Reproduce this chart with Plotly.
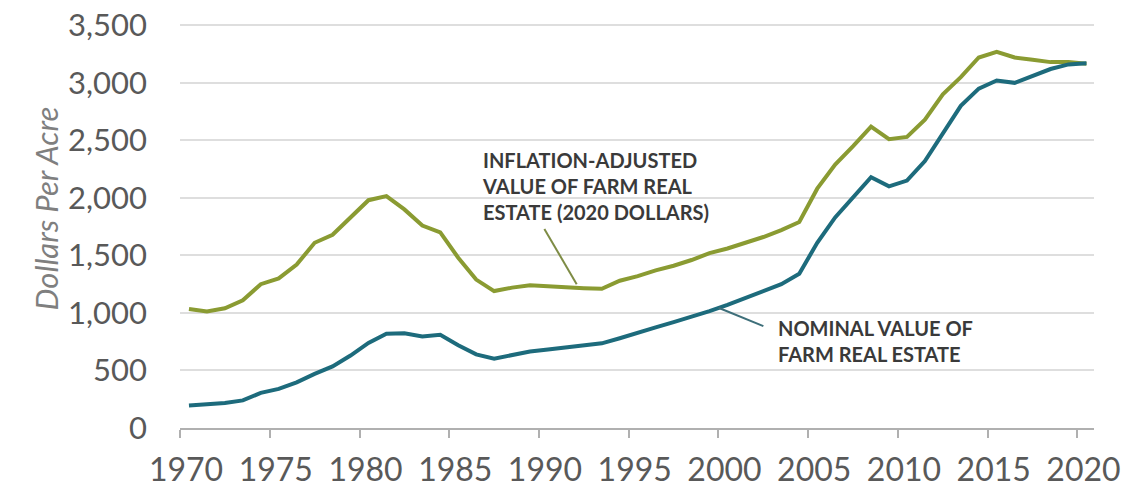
import plotly.graph_objects as go

years = list(range(1970, 2021))

nominal = [195, 205, 218, 240, 305, 340, 397, 470, 535, 630,
           740, 820, 823, 795, 810, 720, 640, 603, 632, 665,
           683, 700, 713, 736, 780, 830, 875, 920, 965, 1015,
           1070, 1130, 1190, 1250, 1340, 1610, 1830, 2010, 2180, 2100,
           2150, 2320, 2560, 2800, 2950, 3020, 3000, 3060, 3120, 3160,
           3170]

inflation_adj = [1035, 1012, 1040, 1110, 1250, 1300, 1420, 1610, 1680, 1830,
                 1980, 2015, 1900, 1760, 1700, 1480, 1290, 1190, 1220, 1240,
                 1230, 1225, 1215, 1210, 1280, 1320, 1370, 1410, 1460, 1520,
                 1560, 1610, 1660, 1720, 1790, 2080, 2290, 2450, 2620, 2510,
                 2530, 2680, 2900, 3050, 3220, 3270, 3220, 3200, 3180, 3180,
                 3165]

tick_years = [1970, 1975, 1980, 1985, 1990, 1995, 2000, 2005, 2010, 2015, 2020]
y_ticks = [0, 500, 1000, 1500, 2000, 2500, 3000, 3500]

OLIVE = "#8A9B32"
TEAL = "#1D6B7C"
FONT = "Lato"

fig = go.Figure()
fig.add_trace(go.Scatter(x=years, y=inflation_adj, mode="lines",
                         line=dict(color=OLIVE, width=4), showlegend=False))
fig.add_trace(go.Scatter(x=years, y=nominal, mode="lines",
                         line=dict(color=TEAL, width=4), showlegend=False))

# pointer lines
fig.add_shape(type="line", xref="x", yref="y", x0=1989.8, y0=1730, x1=1991.6, y1=1250,
              line=dict(color="#7E8C45", width=2))
fig.add_shape(type="line", xref="x", yref="y", x0=1999.5, y0=1045, x1=2002.0, y1=885,
              line=dict(color="#3E6F7A", width=2))

fig.add_annotation(x=1986.2, y=2450, xref="x", yref="y", xanchor="left", yanchor="top",
                   align="left", showarrow=False,
                   text="INFLATION-ADJUSTED<br>VALUE OF FARM REAL<br>ESTATE (2020 DOLLARS)",
                   font=dict(family=FONT, size=20, color="#3A3A3A", weight="bold"))
fig.add_annotation(x=2002.7, y=995, xref="x", yref="y", xanchor="left", yanchor="top",
                   align="left", showarrow=False,
                   text="NOMINAL VALUE OF<br>FARM REAL ESTATE",
                   font=dict(family=FONT, size=20, color="#3A3A3A", weight="bold"))

# y-axis title
fig.add_annotation(x=-0.17, y=0.541, xref="paper", yref="paper", showarrow=False,
                   text="<i>Dollars Per Acre</i>", textangle=-90,
                   font=dict(family=FONT, size=31, color="#7F7F7F"))

fig.update_layout(
    width=1130, height=487,
    margin=dict(l=180, r=36, t=23, b=59),
    paper_bgcolor="white", plot_bgcolor="white",
    font=dict(family=FONT, color="#595959"),
)
fig.update_xaxes(range=[1969.5, 2020.42],
                 tickvals=[t - 0.5 for t in tick_years],
                 ticktext=[str(t) for t in tick_years],
                 showgrid=False, showline=True, linecolor="#B0B0B0", linewidth=2,
                 ticks="outside", ticklen=8, tickcolor="#B0B0B0", tickwidth=2,
                 ticklabelstandoff=5, ticklabelshift=6,
                 ticklabeloverflow="allow",
                 tickfont=dict(family=FONT, size=32, color="#595959"),
                 zeroline=False, automargin=False)
fig.update_yaxes(range=[0, 3520], tickvals=y_ticks,
                 ticktext=[f"{v:,}" for v in y_ticks],
                 showgrid=True, gridcolor="#DEDEDE", gridwidth=2,
                 zeroline=False, showline=False,
                 ticklabelstandoff=32, automargin=False,
                 ticklabeloverflow="allow",
                 tickfont=dict(family=FONT, size=31, color="#595959"))

fig.write_html("out.html", config={"displayModeBar": False},
               post_script="document.body.style.margin='0';")
